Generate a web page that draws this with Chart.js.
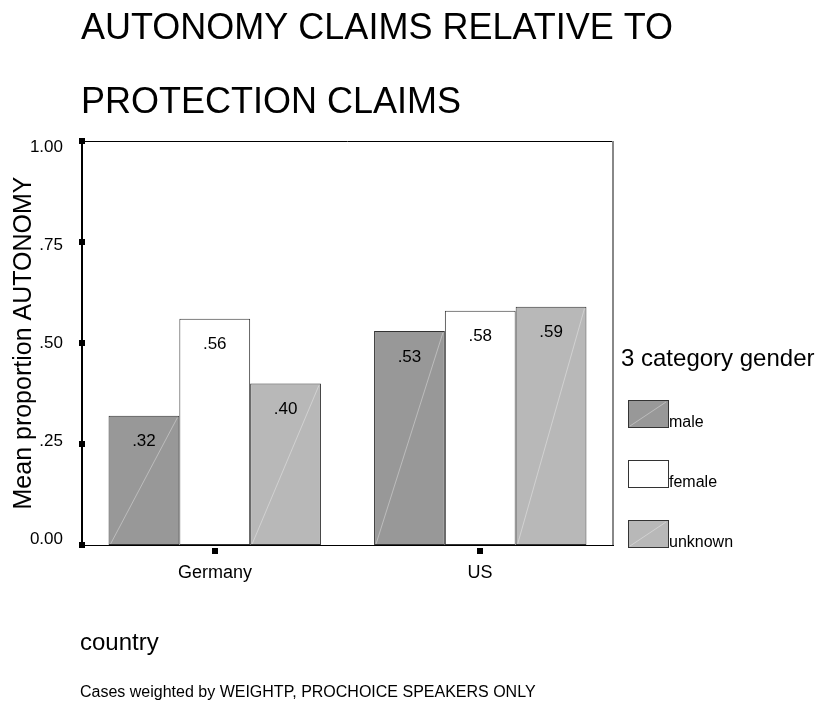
<!DOCTYPE html>
<html lang="en">
<head>
<meta charset="UTF-8">
<title>Autonomy claims relative to protection claims</title>
<script src="https://cdn.jsdelivr.net/npm/chart.js"></script>
<style>
  body { margin: 0; background: #fff; }
  canvas { display: block; }
</style>
</head>
<body>
<canvas id="grafico" width="827" height="709"></canvas>
<script>
  const countries = ['Germany', 'US'];
  const genders = ['male', 'female', 'unknown'];
  const male = [0.32, 0.53];
  const female = [0.56, 0.58];
  const unknown = [0.40, 0.59];
  const yTicks = [0, 0.25, 0.5, 0.75, 1];
  const yTickLabels = ['0.00', '.25', '.50', '.75', '1.00'];
  const colores = ['#989898', '#ffffff', '#b8b8b8'];

  const FONT = '"Liberation Sans", Arial, sans-serif';

  // etiqueta tipo SPSS: .32 en vez de 0.32
  const etiqueta = v => v.toFixed(2).replace(/^0/, '');

  function diagonal(ctx, x0, y0, x1, y1) {
    ctx.strokeStyle = 'rgba(255,255,255,0.35)';
    ctx.lineWidth = 1;
    ctx.beginPath();
    ctx.moveTo(x0, y0);
    ctx.lineTo(x1, y1);
    ctx.stroke();
  }

  const spss = {
    id: 'spss',
    afterDatasetsDraw(chart) {
      const { ctx, chartArea: a, scales: { x, y } } = chart;
      ctx.save();

      // rayita diagonal + valores dentro de cada barra
      chart.data.datasets.forEach((ds, i) => {
        chart.getDatasetMeta(i).data.forEach((bar, j) => {
          const w = bar.width;
          if (i !== 1) diagonal(ctx, bar.x - w / 2 + 2, bar.base - 1, bar.x + w / 2 - 2, bar.y + 2);
          ctx.fillStyle = '#000';
          ctx.font = '17px ' + FONT;
          ctx.textAlign = 'center';
          ctx.textBaseline = 'middle';
          ctx.fillText(etiqueta(ds.data[j]), bar.x, bar.y + 26);
        });
      });

      // marco
      ctx.strokeStyle = '#000';
      ctx.lineWidth = 1;
      ctx.beginPath();
      ctx.moveTo(a.left, a.top + 0.5);
      ctx.lineTo(a.right, a.top + 0.5);
      ctx.stroke();
      ctx.beginPath();
      ctx.moveTo(a.left, a.bottom + 0.5);
      ctx.lineTo(a.right + 1, a.bottom + 0.5);
      ctx.stroke();
      ctx.strokeStyle = '#888';
      ctx.lineWidth = 2;
      ctx.beginPath();
      ctx.moveTo(a.right, a.top);
      ctx.lineTo(a.right, a.bottom);
      ctx.stroke();
      ctx.strokeStyle = '#000';
      ctx.beginPath();
      ctx.moveTo(a.left, a.top);
      ctx.lineTo(a.left, a.bottom + 1);
      ctx.stroke();

      // marcas y etiquetas del eje Y (SPSS las junta un poco hacia el centro)
      ctx.fillStyle = '#000';
      ctx.font = '17px ' + FONT;
      ctx.textAlign = 'right';
      ctx.textBaseline = 'middle';
      yTicks.forEach((v, k) => {
        const py = Math.round(y.getPixelForValue(v));
        ctx.fillRect(a.left - 3, py - 3, 6, 6);
        ctx.fillText(yTickLabels[k], a.left - 19, py - 6 + 12 * v);
      });

      // marcas y etiquetas del eje X
      ctx.textAlign = 'center';
      ctx.font = '18px ' + FONT;
      countries.forEach((c, k) => {
        const px = Math.round(x.getPixelForValue(k));
        ctx.fillRect(px - 3, a.bottom + 3, 6, 6);
        ctx.fillText(c, px, a.bottom + 28);
      });

      // titulo
      ctx.textAlign = 'left';
      ctx.textBaseline = 'alphabetic';
      ctx.font = '36px ' + FONT;
      ctx.fillText('AUTONOMY CLAIMS RELATIVE TO', 81, 39);
      ctx.fillText('PROTECTION CLAIMS', 81, 113);

      // titulo eje Y
      ctx.save();
      ctx.translate(24, 343);
      ctx.rotate(-Math.PI / 2);
      ctx.textAlign = 'center';
      ctx.textBaseline = 'middle';
      ctx.font = '25px ' + FONT;
      ctx.fillText('Mean proportion AUTONOMY', 0, 0);
      ctx.restore();

      // titulo eje X y nota
      ctx.font = '24px ' + FONT;
      ctx.fillText('country', 80, 650);
      ctx.font = '16px ' + FONT;
      ctx.fillText('Cases weighted by WEIGHTP, PROCHOICE SPEAKERS ONLY', 80, 697);

      // leyenda
      ctx.font = '24px ' + FONT;
      ctx.fillText('3 category gender', 621, 366);
      ctx.font = '16px ' + FONT;
      genders.forEach((g, k) => {
        const by = 400 + 60 * k;
        ctx.fillStyle = colores[k];
        ctx.fillRect(628, by, 40, 27);
        if (k !== 1) diagonal(ctx, 630, by + 26, 666, by + 2);
        ctx.strokeStyle = '#333';
        ctx.lineWidth = 1;
        ctx.strokeRect(628.5, by + 0.5, 40, 27);
        ctx.fillStyle = '#000';
        ctx.fillText(g, 669, by + 27);
      });

      ctx.restore();
    }
  };

  new Chart(document.getElementById('grafico'), {
    type: 'bar',
    data: {
      labels: countries,
      datasets: [male, female, unknown].map((d, i) => ({
        label: genders[i],
        data: d,
        backgroundColor: colores[i],
        borderColor: '#333',
        borderWidth: 1,
        borderSkipped: false,
        barPercentage: 1,
        categoryPercentage: 0.8
      }))
    },
    options: {
      responsive: false,
      animation: false,
      layout: { padding: { left: 82, top: 141, right: 214, bottom: 164 } },
      scales: {
        x: { display: false },
        y: { display: false, min: 0, max: 1 }
      },
      plugins: {
        legend: { display: false },
        tooltip: { enabled: false }
      }
    },
    plugins: [spss]
  });
</script>
</body>
</html>
